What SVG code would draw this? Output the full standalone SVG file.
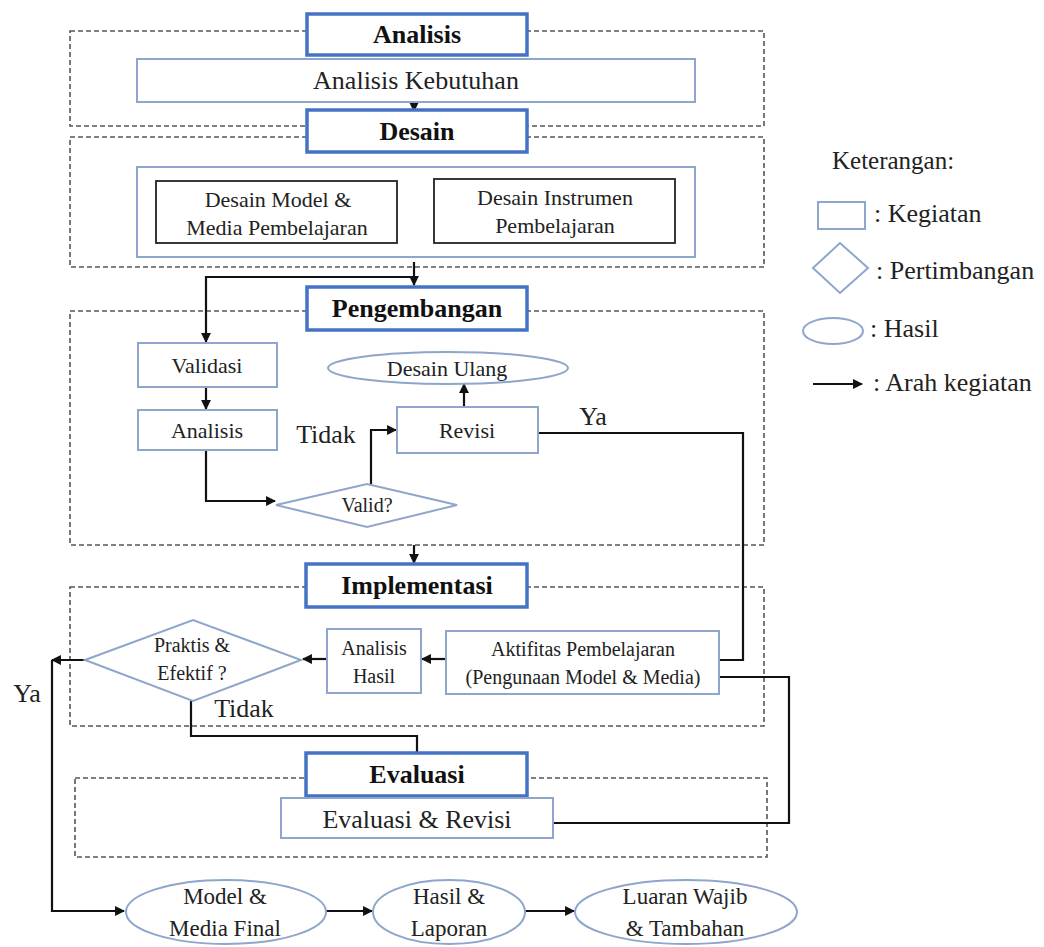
<svg xmlns="http://www.w3.org/2000/svg" width="1044" height="947" viewBox="0 0 1044 947">
<defs>
<marker id="ah" viewBox="0 0 10 10" refX="9" refY="5" markerWidth="4.5" markerHeight="4.5" orient="auto" markerUnits="strokeWidth">
<path d="M0 0 L10 5 L0 10 Z" fill="#111"/>
</marker>
<style>
text{font-family:"Liberation Serif","Times New Roman",serif;fill:#222;text-anchor:middle}
.t{font-weight:bold;font-size:26px;fill:#111}
.n{font-size:22px}
.s{font-size:20px}
.b{font-size:26px}
.l{font-size:26px;text-anchor:start}
.dash{fill:none;stroke:#555;stroke-width:1.6;stroke-dasharray:5 3}
.title{fill:#fff;stroke:#4472C4;stroke-width:3.5}
.node{fill:#fff;stroke:#8EA6CC;stroke-width:2}
.blk{fill:#fff;stroke:#222;stroke-width:1.8}
.c{fill:none;stroke:#111;stroke-width:2.2}
.a{marker-end:url(#ah)}
</style>
</defs>
<rect width="1044" height="947" fill="#fff"/>

<g id="frames">
<rect class="dash" x="70" y="31" width="694" height="95"/>
<rect class="dash" x="70" y="137" width="694" height="130"/>
<rect class="dash" x="70" y="311" width="694" height="234"/>
<rect class="dash" x="70" y="587" width="694" height="139"/>
<rect class="dash" x="75" y="778" width="692" height="79"/>
</g>

<g id="connectors">
<path class="c a" d="M414 100 V111"/>
<path class="c a" d="M414 262 V285"/>
<path class="c a" d="M414 277 H206 V342"/>
<path class="c a" d="M206 387 V409"/>
<path class="c a" d="M206 450 V501 H275"/>
<path class="c a" d="M371 484 V430 H396"/>
<path class="c a" d="M464 407 V384"/>
<path class="c a" d="M538 433 H743 V660 H711"/>
<path class="c a" d="M414 545 V563"/>
<path class="c a" d="M446 659 H422"/>
<path class="c a" d="M327 659 H303"/>
<path class="c a" d="M85 660 H52"/>
<path class="c a" d="M52 660 V911 H124"/>
<path class="c" d="M191 701 V736 H417 V753"/>
<path class="c a" d="M553 823 H789 V677 H711"/>
<path class="c a" d="M326 911 H372"/>
<path class="c a" d="M525 911 H574"/>
</g>

<g id="analisis">
<rect class="title" x="307" y="14" width="220" height="41"/>
<text class="t" x="417" y="43">Analisis</text>
</g>
<g id="analisis-kebutuhan">
<rect class="node" x="137" y="59" width="558" height="43"/>
<text class="b" x="416" y="89">Analisis Kebutuhan</text>
</g>

<g id="desain">
<rect class="title" x="307" y="110" width="220" height="42"/>
<text class="t" x="417" y="140">Desain</text>
</g>
<g id="desain-group">
<rect class="node" x="137" y="167" width="558" height="90"/>
</g>
<g id="desain-model">
<rect class="blk" x="156" y="181" width="241" height="62"/>
<text class="n" x="278" y="207">Desain Model &amp;</text>
<text class="n" x="277" y="235">Media Pembelajaran</text>
</g>
<g id="desain-instrumen">
<rect class="blk" x="434" y="179" width="241" height="64"/>
<text class="n" x="555" y="205">Desain Instrumen</text>
<text class="n" x="555" y="233">Pembelajaran</text>
</g>

<g id="pengembangan">
<rect class="title" x="307" y="287" width="220" height="43"/>
<text class="t" x="417" y="317">Pengembangan</text>
</g>
<g id="validasi">
<rect class="node" x="138" y="343" width="139" height="44"/>
<text class="n" x="207" y="373">Validasi</text>
</g>
<g id="analisis2">
<rect class="node" x="138" y="410" width="139" height="40"/>
<text class="n" x="207" y="438">Analisis</text>
</g>
<g id="desain-ulang">
<ellipse class="node" cx="448" cy="368" rx="120" ry="16"/>
<text class="n" x="447" y="376">Desain Ulang</text>
</g>
<g id="revisi">
<rect class="node" x="397" y="407" width="141" height="46"/>
<text class="n" x="467" y="438">Revisi</text>
</g>
<g id="valid">
<polygon class="node" points="276,505 367,484 457,505 367,527"/>
<text class="s" x="367" y="512">Valid?</text>
</g>
<text class="b" x="326" y="443">Tidak</text>
<text class="b" x="593" y="425">Ya</text>

<g id="implementasi">
<rect class="title" x="306" y="564" width="221" height="43"/>
<text class="t" x="417" y="594">Implementasi</text>
</g>
<g id="praktis">
<polygon class="node" points="85,660 193,620 301,660 193,701"/>
<text class="s" x="192" y="652">Praktis &amp;</text>
<text class="s" x="192" y="680">Efektif ?</text>
</g>
<g id="analisis-hasil">
<rect class="node" x="327" y="629" width="94" height="64"/>
<text class="s" x="374" y="655">Analisis</text>
<text class="s" x="374" y="683">Hasil</text>
</g>
<g id="aktifitas">
<rect class="node" x="446" y="631" width="273" height="63"/>
<text class="s" x="583" y="656">Aktifitas Pembelajaran</text>
<text class="s" x="583" y="684">(Pengunaan Model &amp; Media)</text>
</g>
<text class="b" x="27" y="702">Ya</text>
<text class="b" x="244" y="717">Tidak</text>

<g id="evaluasi">
<rect class="title" x="306" y="753" width="221" height="43"/>
<text class="t" x="417" y="783">Evaluasi</text>
</g>
<g id="evaluasi-revisi">
<rect class="node" x="281" y="798" width="272" height="40"/>
<text class="b" x="417" y="828">Evaluasi &amp; Revisi</text>
</g>

<g id="model-final">
<ellipse class="node" cx="226" cy="912" rx="100" ry="32"/>
<text class="n" x="225" y="904" style="font-size:23px">Model &amp;</text>
<text class="n" x="225" y="936" style="font-size:23px">Media Final</text>
</g>
<g id="hasil-laporan">
<ellipse class="node" cx="449" cy="912" rx="76" ry="32"/>
<text class="n" x="449" y="904" style="font-size:23px">Hasil &amp;</text>
<text class="n" x="449" y="936" style="font-size:23px">Laporan</text>
</g>
<g id="luaran">
<ellipse class="node" cx="686" cy="912" rx="111" ry="32"/>
<text class="n" x="685" y="904" style="font-size:23px">Luaran Wajib</text>
<text class="n" x="685" y="936" style="font-size:23px">&amp; Tambahan</text>
</g>

<g id="legend">
<text class="l" x="832" y="169" style="font-size:25px">Keterangan:</text>
<rect class="node" x="818" y="202" width="47" height="27"/>
<text class="l" x="874" y="222">: Kegiatan</text>
<polygon class="node" points="813,268 840,243 868,268 840,293"/>
<text class="l" x="876" y="279">: Pertimbangan</text>
<ellipse class="node" cx="833" cy="331" rx="30" ry="13"/>
<text class="l" x="870" y="337">: Hasil</text>
<path class="c a" d="M813 384 H862"/>
<text class="l" x="873" y="391">: Arah kegiatan</text>
</g>
</svg>
